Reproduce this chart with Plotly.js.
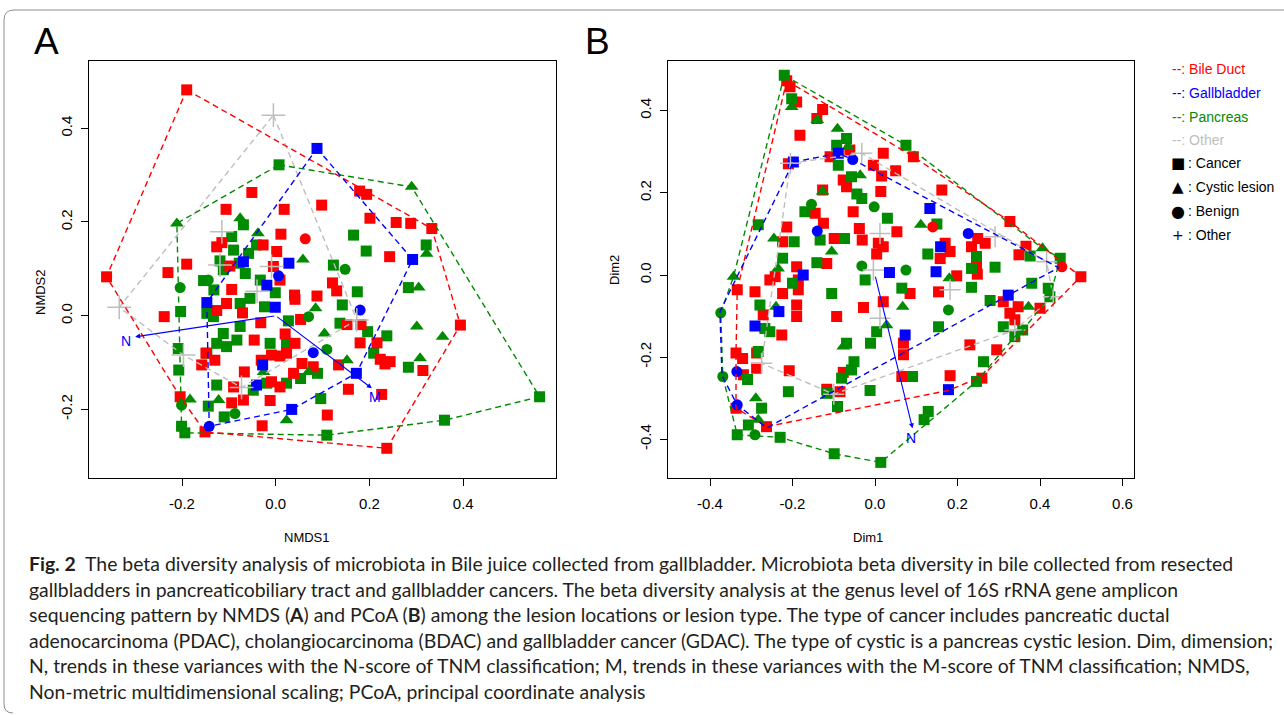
<!DOCTYPE html>
<html>
<head>
<meta charset="utf-8">
<script src="https://cdn.plot.ly/plotly-3.0.1.min.js"></script>
<style>
html,body{margin:0;padding:0;background:#fff;}
#chart{width:1284px;height:715px;}
</style>
</head>
<body>
<div id="chart"></div>
<script>
// ---------------- Panel A (NMDS) ----------------
const A_BileDuct_Cancer_x = [-0.190,-0.051,-0.106,0.018,0.098,0.179,0.194,0.201,0.257,0.288,0.333,0.011,-0.126,-0.115,-0.098,-0.190,-0.230,-0.361,0.002,-0.027,0.243,0.121,0.130,0.040,0.041,0.088,-0.094,-0.105,-0.071,-0.126,-0.238,-0.032,0.053,0.182,0.152,0.020,-0.046,0.041,0.180,0.216,-0.149,-0.130,-0.158,-0.009,0.009,0.023,-0.031,0.056,0.080,0.134,0.223,0.244,0.233,-0.067,0.038,0.314,-0.009,0.009,-0.090,0.155,0.226,-0.094,-0.069,-0.012,0.110,-0.029,-0.204,-0.151,0.237,0.394,-0.005,0.009];
const A_BileDuct_Cancer_y = [0.482,0.263,0.227,0.227,0.236,0.266,0.259,0.208,0.199,0.197,0.186,0.174,0.147,0.156,0.106,0.110,0.092,0.083,0.137,0.151,0.126,0.070,0.053,0.044,0.035,0.042,0.056,0.026,0.006,0.011,-0.002,-0.015,-0.008,-0.019,-0.019,-0.039,-0.052,-0.059,-0.058,-0.058,-0.080,-0.095,-0.105,-0.084,-0.086,-0.080,-0.095,-0.102,-0.109,-0.105,-0.093,-0.098,-0.103,-0.120,-0.123,-0.117,-0.141,-0.152,-0.152,-0.157,-0.168,-0.186,-0.180,-0.181,-0.212,-0.235,-0.173,-0.248,-0.283,-0.020,0.105,0.076];
const A_BileDuct_Benign_x = [0.063];
const A_BileDuct_Benign_y = [0.164];

const A_Pancreas_Cancer_x = [0.007,0.166,0.193,0.321,0.123,0.174,0.142,0.137,0.196,0.237,0.209,0.283,0.283,0.360,0.563,0.109,0.096,0.023,0.053,0.089,-0.012,0.023,0.027,-0.001,-0.033,-0.065,-0.078,-0.119,-0.094,-0.069,-0.041,-0.154,-0.132,-0.112,-0.055,-0.076,-0.024,-0.133,-0.147,-0.076,-0.112,-0.126,-0.105,-0.083,-0.147,-0.203,-0.208,-0.207,-0.126,-0.144,-0.110,-0.048,-0.019,-0.194,-0.201,-0.090,-0.058];
const A_Pancreas_Cancer_y = [0.322,0.172,0.138,0.151,0.108,0.051,0.023,-0.016,-0.034,-0.043,-0.080,0.060,-0.110,-0.223,-0.173,-0.255,-0.177,-0.144,-0.134,-0.123,-0.059,-0.059,-0.011,0.049,0.076,0.090,0.112,0.117,0.169,0.194,0.151,0.075,0.055,0.098,0.037,0.026,0.019,-0.002,0.005,-0.023,-0.038,-0.059,-0.066,-0.052,-0.080,0.009,-0.070,-0.116,-0.148,-0.193,-0.216,-0.159,-0.144,-0.250,-0.236,0.140,0.133];
const A_Pancreas_Cystic_x = [0.290,-0.211,-0.076,-0.038,0.058,0.322,0.305,0.085,0.104,0.301,0.356,0.308,0.152,0.070,-0.026,0.023,-0.122,-0.183];
const A_Pancreas_Cystic_y = [0.275,0.197,0.208,0.176,0.120,0.132,0.060,0.016,-0.038,-0.023,-0.045,-0.091,-0.095,-0.120,-0.120,-0.223,-0.180,-0.179];
const A_Pancreas_Benign_x = [-0.204,-0.144,0.148,0.070,0.109,-0.087,-0.201];
const A_Pancreas_Benign_y = [0.060,0.076,0.099,-0.002,-0.072,-0.209,-0.191];

const A_Gallbladder_Cancer_x = [0.088,0.292,0.172,0.034,-0.147,0.028,-0.001,-0.069,-0.019,-0.028,-0.041];
const A_Gallbladder_Cancer_y = [0.357,0.120,-0.123,-0.200,0.028,0.112,0.018,0.115,0.065,-0.105,-0.148];
const A_Gallbladder_Benign_x = [-0.142,0.006,0.180,0.080];
const A_Gallbladder_Benign_y = [-0.236,0.085,0.012,-0.079];

const A_Other_x = [-0.005,-0.334,-0.197,-0.073,-0.115,-0.009,0.173,-0.040,-0.119];
const A_Other_y = [0.428,0.018,-0.084,-0.153,0.179,0.105,-0.009,0.052,0.108];

// hull vertices (ordihull)
const A_hull_BileDuct_x = [-0.190,0.333,0.394,0.237,-0.151,-0.204,-0.361];
const A_hull_BileDuct_y = [0.482,0.186,-0.020,-0.283,-0.248,-0.173,0.083];
const A_hull_Gallbladder_x = [0.088,0.292,0.172,0.034,-0.142,-0.147];
const A_hull_Gallbladder_y = [0.357,0.120,-0.123,-0.200,-0.236,0.028];
const A_hull_Pancreas_x = [0.007,0.290,0.563,0.360,0.109,-0.194,-0.201,-0.211];
const A_hull_Pancreas_y = [0.322,0.275,-0.173,-0.223,-0.255,-0.250,-0.236,0.197];
const A_hull_Other_x = [-0.005,0.173,-0.073,-0.197,-0.334];
const A_hull_Other_y = [0.428,-0.009,-0.153,-0.084,0.018];

// fitted vectors
const A_vec_names = ['N','M'];
const A_vec_x = [-0.300,0.205];
const A_vec_y = [-0.045,-0.155];
const A_vec_label_x = [-0.320,0.212];
const A_vec_label_y = [-0.053,-0.174];

const A_xticks = [-0.2,0.0,0.2,0.4];
const A_xticklabels = ['-0.2','0.0','0.2','0.4'];
const A_yticks = [-0.2,0.0,0.2,0.4];
const A_yticklabels = ['-0.2','0.0','0.2','0.4'];

// ---------------- Panel B (PCoA) ----------------
const B_BileDuct_Cancer_x = [-0.214,-0.206,-0.190,-0.127,-0.141,-0.182,-0.210,-0.109,-0.061,-0.004,0.020,0.093,0.050,0.016,-0.077,-0.069,0.014,-0.127,0.162,-0.053,-0.145,-0.125,-0.038,0.053,-0.031,-0.099,-0.214,-0.224,0.008,0.020,0.004,0.170,0.182,0.158,0.249,0.267,0.234,0.327,0.366,0.349,0.248,0.198,0.154,0.085,0.020,-0.028,-0.093,-0.190,-0.186,-0.186,-0.190,-0.190,-0.255,-0.242,-0.224,-0.291,-0.334,-0.271,-0.226,-0.117,-0.287,-0.337,-0.321,-0.287,-0.319,-0.337,-0.263,-0.208,-0.117,-0.085,-0.077,0.069,0.069,0.065,0.182,0.259,0.230,0.295,0.311,0.327,0.339,0.347,0.400,0.499,0.246];
const B_BileDuct_Cancer_y = [0.473,0.458,0.421,0.403,0.381,0.340,0.271,0.288,0.304,0.267,0.296,0.288,0.254,0.241,0.231,0.215,0.203,0.207,0.207,0.154,0.150,0.126,0.113,0.105,0.085,0.089,0.117,0.081,0.077,0.069,0.051,0.077,0.057,0.040,0.089,0.077,0.069,0.130,0.070,0.049,0.002,-0.002,-0.041,-0.045,-0.065,-0.079,-0.101,0.020,-0.012,-0.036,-0.073,-0.101,-0.012,-0.004,-0.045,-0.041,-0.036,-0.097,-0.146,0.028,-0.190,-0.190,-0.203,-0.227,-0.243,-0.324,-0.369,-0.233,-0.278,-0.284,-0.237,-0.166,-0.194,-0.247,-0.245,-0.251,-0.170,-0.182,-0.065,-0.093,-0.109,-0.077,-0.081,-0.004,0.024];
const B_BileDuct_Benign_x = [0.140,0.453];
const B_BileDuct_Benign_y = [0.117,0.020];

const B_Pancreas_Cancer_x = [-0.220,-0.202,-0.069,-0.093,-0.089,-0.057,-0.044,-0.032,0.075,0.030,0.150,-0.170,-0.133,-0.074,-0.196,-0.283,-0.224,-0.141,-0.200,-0.279,-0.267,-0.255,-0.283,-0.309,-0.275,-0.307,-0.334,-0.230,-0.099,0.014,0.119,0.129,0.246,0.263,0.091,-0.012,-0.051,-0.057,-0.081,-0.069,-0.011,0.004,-0.024,0.065,-0.210,-0.116,-0.091,-0.105,0.154,0.128,0.246,0.234,0.234,0.291,0.279,0.311,0.339,0.358,0.380,0.376,0.420,0.424,0.449];
const B_Pancreas_Cancer_y = [0.486,0.429,0.332,0.316,0.267,0.239,0.197,0.186,0.316,0.138,0.124,0.154,0.085,0.089,0.081,0.122,0.041,0.030,-0.020,-0.073,-0.130,-0.138,-0.186,-0.254,-0.324,-0.365,-0.389,-0.395,-0.435,-0.456,-0.352,-0.332,-0.259,-0.211,-0.247,-0.281,-0.211,-0.231,-0.251,-0.166,-0.166,-0.138,-0.012,-0.032,-0.284,-0.288,-0.320,-0.045,-0.126,0.051,0.045,0.016,-0.030,0.019,-0.062,-0.126,-0.150,-0.134,-0.020,0.046,-0.032,-0.053,0.041];
const B_Pancreas_Cystic_x = [-0.202,-0.140,-0.091,-0.065,-0.036,-0.127,0.111,-0.245,-0.105,-0.235,-0.343,-0.240,-0.077,0.067,0.028,0.180,0.406,0.372,-0.289,-0.283];
const B_Pancreas_Cystic_y = [0.409,0.377,0.356,0.312,0.243,0.203,0.122,0.089,0.057,0.016,-0.004,-0.077,-0.174,-0.077,-0.122,-0.008,0.065,-0.077,-0.300,-0.352];
const B_Pancreas_Benign_x = [-0.154,-0.002,-0.032,0.075,0.178,-0.374,-0.369,-0.291];
const B_Pancreas_Benign_y = [0.172,0.166,0.022,0.012,-0.085,-0.092,-0.247,-0.389];

const B_Gallbladder_Cancer_x = [-0.198,-0.089,0.133,0.159,0.148,0.035,-0.174,-0.233,-0.291,0.073,0.178,0.323];
const B_Gallbladder_Cancer_y = [0.275,0.296,0.162,0.069,0.008,0.006,0.000,-0.089,-0.124,-0.146,-0.279,-0.049];
const B_Gallbladder_Benign_x = [-0.054,-0.140,0.226,-0.335,-0.334];
const B_Gallbladder_Benign_y = [0.281,0.107,0.101,-0.235,-0.316];

const B_Other_x = [-0.205,-0.032,0.416,0.432,0.339,-0.100,-0.275,0.012,-0.004,0.012,0.182,0.291];
const B_Other_y = [0.272,0.296,0.032,-0.053,-0.134,-0.290,-0.215,0.101,0.012,-0.105,-0.036,0.093];

const B_hull_BileDuct_x = [-0.214,0.093,0.327,0.499,0.259,0.178,-0.263,-0.337,-0.337,-0.334];
const B_hull_BileDuct_y = [0.473,0.288,0.130,-0.004,-0.247,-0.281,-0.369,-0.324,-0.190,-0.036];
const B_hull_Gallbladder_x = [-0.198,-0.089,-0.054,0.445,-0.262,-0.334,-0.371,-0.376];
const B_hull_Gallbladder_y = [0.275,0.296,0.281,0.018,-0.372,-0.316,-0.245,-0.089];
const B_hull_Pancreas_x = [-0.220,0.075,0.406,0.449,0.424,0.358,0.339,0.246,0.014,-0.099,-0.230,-0.334,-0.369,-0.374,-0.343];
const B_hull_Pancreas_y = [0.486,0.316,0.065,0.041,-0.053,-0.134,-0.150,-0.259,-0.456,-0.435,-0.395,-0.389,-0.247,-0.092,-0.004];
const B_hull_Other_x = [-0.205,-0.032,0.416,0.432,0.339,-0.100,-0.275];
const B_hull_Other_y = [0.272,0.296,0.032,-0.053,-0.134,-0.290,-0.215];

const B_vec_names = ['N'];
const B_vec_x = [0.091];
const B_vec_y = [-0.373];
const B_vec_label_x = [0.087];
const B_vec_label_y = [-0.397];

const B_xticks = [-0.4,-0.2,0.0,0.2,0.4,0.6];
const B_xticklabels = ['-0.4','-0.2','0.0','0.2','0.4','0.6'];
const B_yticks = [-0.4,-0.2,0.0,0.2,0.4];
const B_yticklabels = ['-0.4','-0.2','0.0','0.2','0.4'];

// ---------------- legend / text ----------------
const legend_location_labels = ['--: Bile Duct','--: Gallbladder','--: Pancreas','--: Other'];
const legend_type_symbols = ['\u25A0','\u25B2','\u25CF','+'];
const legend_type_labels = [': Cancer',': Cystic lesion',': Benign',': Other'];
const panel_letters = ['A','B'];
const axis_titles = ['NMDS1','NMDS2','Dim1','Dim2'];
const caption_lines = [
 '<b>Fig. 2</b>\u00a0\u00a0The beta diversity analysis of microbiota in Bile juice collected from gallbladder. Microbiota beta diversity in bile collected from resected',
 'gallbladders in pancreaticobiliary tract and gallbladder cancers. The beta diversity analysis at the genus level of 16S rRNA gene amplicon',
 'sequencing pattern by NMDS (<b>A</b>) and PCoA (<b>B</b>) among the lesion locations or lesion type. The type of cancer includes pancreatic ductal',
 'adenocarcinoma (PDAC), cholangiocarcinoma (BDAC) and gallbladder cancer (GDAC). The type of cystic is a pancreas cystic lesion. Dim, dimension;',
 'N, trends in these variances with the N-score of TNM classification; M, trends in these variances with the M-score of TNM classification; NMDS,',
 'Non-metric multidimensional scaling; PCoA, principal coordinate analysis'
];

// ---------------- styling ----------------
const RED = '#FF0000', BLUE = '#0000FF', GREEN = '#008B00', GRAY = '#BEBEBE';
const FONT = 'Liberation Sans, Arial, Helvetica, sans-serif';

function pts(x, y, xa, ya, color, symbol, size) {
  const isPlus = symbol.indexOf('cross') === 0;
  return {
    type: 'scatter', mode: 'markers', x: x, y: y, xaxis: xa, yaxis: ya,
    hoverinfo: 'skip', showlegend: false,
    marker: isPlus
      ? {symbol: symbol, size: size, color: color, line: {color: color, width: 1.5}}
      : {symbol: symbol, size: size, color: color, line: {width: 0}}
  };
}
function hull(x, y, xa, ya, color) {
  return {
    type: 'scatter', mode: 'lines', x: x.concat([x[0]]), y: y.concat([y[0]]),
    xaxis: xa, yaxis: ya, hoverinfo: 'skip', showlegend: false,
    line: {color: color, width: 1.4, dash: '6px,4px'}
  };
}

const SQ = 11, TR = 12, CI = 11, PL = 17;
const traces = [
  // panel A
  pts(A_Pancreas_Cancer_x, A_Pancreas_Cancer_y, 'x', 'y', GREEN, 'square', SQ),
  pts(A_BileDuct_Cancer_x, A_BileDuct_Cancer_y, 'x', 'y', RED, 'square', SQ),
  pts(A_Pancreas_Cystic_x, A_Pancreas_Cystic_y, 'x', 'y', GREEN, 'triangle-up', TR),
  pts(A_Pancreas_Benign_x, A_Pancreas_Benign_y, 'x', 'y', GREEN, 'circle', CI),
  pts(A_BileDuct_Benign_x, A_BileDuct_Benign_y, 'x', 'y', RED, 'circle', CI),
  pts(A_Gallbladder_Cancer_x, A_Gallbladder_Cancer_y, 'x', 'y', BLUE, 'square', SQ),
  pts(A_Gallbladder_Benign_x, A_Gallbladder_Benign_y, 'x', 'y', BLUE, 'circle', CI),
  pts(A_Other_x, A_Other_y, 'x', 'y', GRAY, 'cross-thin-open', PL),
  hull(A_hull_Other_x, A_hull_Other_y, 'x', 'y', GRAY),
  hull(A_hull_Pancreas_x, A_hull_Pancreas_y, 'x', 'y', GREEN),
  hull(A_hull_BileDuct_x, A_hull_BileDuct_y, 'x', 'y', RED),
  hull(A_hull_Gallbladder_x, A_hull_Gallbladder_y, 'x', 'y', BLUE),
  // panel B
  pts(B_BileDuct_Cancer_x, B_BileDuct_Cancer_y, 'x2', 'y2', RED, 'square', SQ),
  pts(B_Pancreas_Cancer_x, B_Pancreas_Cancer_y, 'x2', 'y2', GREEN, 'square', SQ),
  pts(B_Pancreas_Cystic_x, B_Pancreas_Cystic_y, 'x2', 'y2', GREEN, 'triangle-up', TR),
  pts(B_BileDuct_Benign_x, B_BileDuct_Benign_y, 'x2', 'y2', RED, 'circle', CI),
  pts(B_Pancreas_Benign_x, B_Pancreas_Benign_y, 'x2', 'y2', GREEN, 'circle', CI),
  pts(B_Gallbladder_Cancer_x, B_Gallbladder_Cancer_y, 'x2', 'y2', BLUE, 'square', SQ),
  pts(B_Gallbladder_Benign_x, B_Gallbladder_Benign_y, 'x2', 'y2', BLUE, 'circle', CI),
  pts(B_Other_x, B_Other_y, 'x2', 'y2', GRAY, 'cross-thin-open', PL - 2),
  hull(B_hull_Other_x, B_hull_Other_y, 'x2', 'y2', GRAY),
  hull(B_hull_Pancreas_x, B_hull_Pancreas_y, 'x2', 'y2', GREEN),
  hull(B_hull_BileDuct_x, B_hull_BileDuct_y, 'x2', 'y2', RED),
  hull(B_hull_Gallbladder_x, B_hull_Gallbladder_y, 'x2', 'y2', BLUE)
];

const annotations = [];
function vectors(names, vx, vy, lx, ly, xa, ya) {
  names.forEach(function(n, i) {
    annotations.push({xref: xa, yref: ya, axref: xa, ayref: ya, x: vx[i], y: vy[i], ax: 0, ay: 0,
      text: '', showarrow: true, arrowhead: 2, arrowsize: 0.9, arrowwidth: 1.1, arrowcolor: BLUE, standoff: 0, startstandoff: 0});
    annotations.push({xref: xa, yref: ya, x: lx[i], y: ly[i], xanchor: 'center', yanchor: 'middle', text: n, showarrow: false,
      font: {family: FONT, size: 14, color: BLUE}});
  });
}
vectors(A_vec_names, A_vec_x, A_vec_y, A_vec_label_x, A_vec_label_y, 'x', 'y');
vectors(B_vec_names, B_vec_x, B_vec_y, B_vec_label_x, B_vec_label_y, 'x2', 'y2');

function paperText(px, py, text, font, extra) {
  const a = {xref: 'paper', yref: 'paper', x: px/1284, y: 1 - py/715, xanchor: 'center', yanchor: 'middle',
    text: text, showarrow: false, font: font};
  if (extra) Object.assign(a, extra);
  annotations.push(a);
}
// panel letters
paperText(47, 41.5, panel_letters[0], {family: FONT, size: 37, color: '#000'});
paperText(597, 41.5, panel_letters[1], {family: FONT, size: 37, color: '#000'});
// axis titles
const titleFont = {family: FONT, size: 13, color: '#000'};
paperText(307, 537, axis_titles[0], titleFont);
paperText(40, 292, axis_titles[1], titleFont, {textangle: -90});
paperText(868, 537, axis_titles[2], titleFont);
paperText(614, 270, axis_titles[3], titleFont, {textangle: -90});
// legend
const legendColors = [RED, BLUE, GREEN, GRAY];
const legendY = [69.3, 93.3, 116.7, 140, 163.3, 187.3, 211.3, 235];
const symbolSizes = [15, 15, 16, 14];
legend_location_labels.forEach(function(t, i) {
  paperText(1170, legendY[i], t, {family: FONT, size: 14, color: legendColors[i]}, {xanchor: 'left'});
});
legend_type_labels.forEach(function(t, i) {
  paperText(1177.5, legendY[i + 4], legend_type_symbols[i], {family: 'DejaVu Sans, sans-serif', size: symbolSizes[i], color: '#000'});
  paperText(1186, legendY[i + 4], t, {family: FONT, size: 14, color: '#000'}, {xanchor: 'left'});
});
// caption
const capY = [563, 589, 614, 640, 665, 691];
caption_lines.forEach(function(t, i) {
  paperText(27, capY[i], t, {family: 'Lato, Liberation Sans, sans-serif', size: 19.4, color: '#231f20'}, {xanchor: 'left'});
});

function axis(dom, rng, tv, tt, anchor, isY) {
  const a = {domain: dom, range: rng, anchor: anchor, tickmode: 'array', tickvals: tv, ticktext: tt,
    ticks: 'outside', ticklen: 7, tickwidth: 1, tickcolor: '#000',
    showline: true, linecolor: '#000', linewidth: 1, mirror: true,
    showgrid: false, zeroline: false, fixedrange: true,
    tickfont: {family: FONT, size: 15, color: '#000'}, ticklabelstandoff: 5};
  if (isY) { a.tickangle = -90; a.ticklabelstandoff = 3; }
  return a;
}

const layout = {
  width: 1284, height: 715,
  margin: {l: 0, r: 0, t: 0, b: 0, pad: 0},
  paper_bgcolor: '#fff', plot_bgcolor: '#fff',
  showlegend: false,
  xaxis: axis([89/1284, 556/1284], [-0.3985, 0.598], A_xticks, A_xticklabels, 'y', false),
  yaxis: axis([1 - 478/715, 1 - 61/715], [-0.3464, 0.5436], A_yticks, A_yticklabels, 'x', true),
  xaxis2: axis([667.7/1284, 1134.3/1284], [-0.5026, 0.6286], B_xticks, B_xticklabels, 'y2', false),
  yaxis2: axis([1 - 478/715, 1 - 61/715], [-0.494, 0.5208], B_yticks, B_yticklabels, 'x2', true),
  annotations: annotations,
  shapes: [{type: 'path', xref: 'paper', yref: 'paper',
    path: 'M 1.0,' + (1 - 10/715) + ' L ' + (14/1284) + ',' + (1 - 10/715) + ' Q ' + (4/1284) + ',' + (1 - 10/715) + ' ' + (4/1284) + ',' + (1 - 20/715) +
          ' L ' + (4/1284) + ',' + (1 - 704/715) + ' Q ' + (4/1284) + ',' + (1 - 713/715) + ' ' + (13/1284) + ',' + (1 - 713/715),
    line: {color: '#8c8c8c', width: 1}}]
};

Plotly.newPlot('chart', traces, layout, {displayModeBar: false, staticPlot: true});
</script>
</body>
</html>
